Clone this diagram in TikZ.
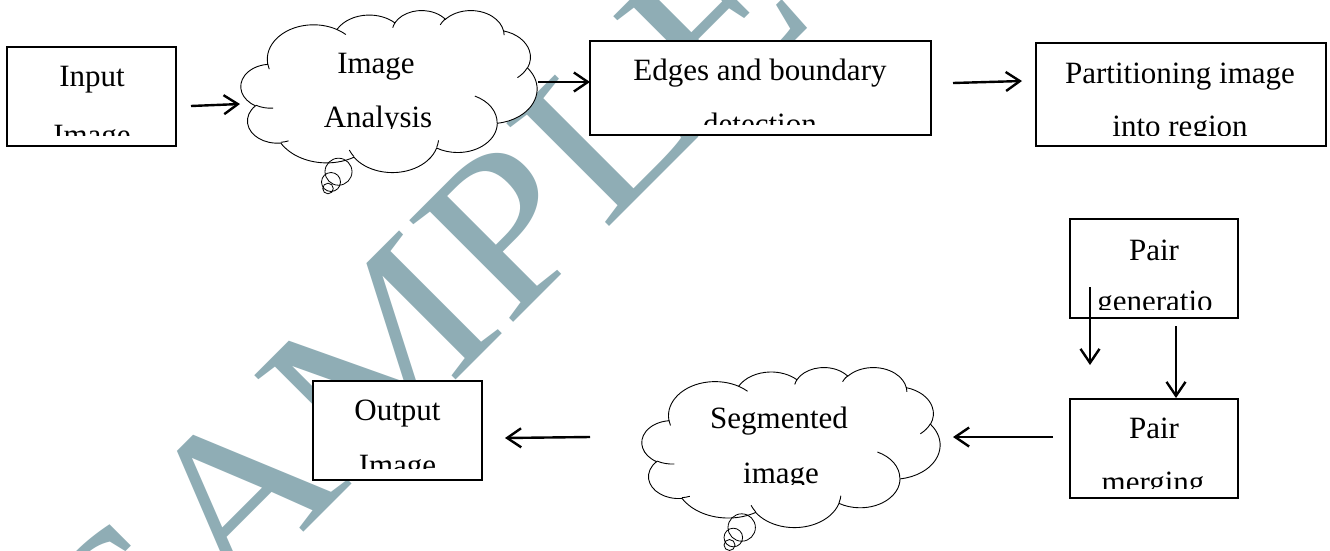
\documentclass[tikz,border=0pt]{standalone}
\usepackage{fontspec}
\setmainfont{Liberation Serif}
\usetikzlibrary{arrows.meta}

\definecolor{wmark}{RGB}{143,173,181}

% Cloud outline built from elliptical arcs (432 x 432 design grid).
% Angles are visual angles; they are turned into parametric ones here.
\makeatletter
\newcommand\defoarc[5]{%
  \pgfmathsetmacro\oa@s{atan2((#2)*sin(#4),(#3)*cos(#4))}%
  \pgfmathsetmacro\oa@e{atan2((#2)*sin((#4)+(#5)),(#3)*cos((#4)+(#5)))}%
  \pgfmathsetmacro\oa@d{mod(\oa@e-\oa@s+720,360)}%
  \expandafter\xdef\csname oarc#1\endcsname{arc[start angle=\oa@s,delta angle=\oa@d,x radius=#2,y radius=#3]}%
}
\makeatother
% outline
\defoarc{A}{67.53}{91.90}{-190.4875}{123.7805}
\defoarc{B}{53.33}{72.67}{-144.1024}{89.9452}
\defoarc{C}{43.65}{59.45}{-145.8079}{99.7230}
\defoarc{D}{48.57}{65.95}{-130.9861}{117.2417}
\defoarc{E}{53.33}{72.73}{-78.7089}{109.0269}
\defoarc{F}{67.75}{92.20}{-46.2673}{130.2690}
\defoarc{G}{57.85}{78.67}{0.6250}{114.0333}
\defoarc{H}{67.52}{92.15}{22.4516}{115.1726}
\defoarc{I}{77.20}{105.43}{66.2426}{75.7110}
\defoarc{J}{43.60}{59.18}{-274.9421}{146.7356}
\defoarc{K}{43.45}{59.45}{-246.8285}{152.5189}
% inner puff lines
\defoarc{a}{43.45}{59.45}{86.7420}{26.4295}
\defoarc{b}{43.60}{59.18}{73.6105}{11.4475}
\defoarc{c}{67.52}{92.15}{137.6242}{14.0811}
\defoarc{d}{67.52}{92.15}{6.4533}{15.9984}
\defoarc{e}{57.85}{78.67}{-70.2924}{70.9174}
\defoarc{f}{53.33}{72.73}{30.3180}{27.7515}
\defoarc{g}{48.57}{65.95}{-13.7443}{14.8589}
\defoarc{h}{48.57}{65.95}{-149.1815}{18.1954}
\defoarc{i}{43.65}{59.45}{-163.4943}{17.6864}
\defoarc{j}{67.53}{91.90}{-66.7070}{12.3194}
\defoarc{k}{67.53}{91.90}{157.6544}{11.8582}

\newcommand\cloudshape{%
  \path[cloudline, fill=white] (39.00,143.70) \oarcA \oarcB \oarcC \oarcD \oarcE
     \oarcF \oarcG \oarcH \oarcI \oarcJ \oarcK -- cycle;
  \path[cloudline] (46.93,261.77) \oarca (69.28,348.99) \oarcb
     (164.78,390.90) \oarcc (288.27,347.51) \oarcd (341.29,229.54) \oarce
     (417.98,153.54) \oarcf (383.24,54.26) \oarcg (290.78,39.52) \oarch
     (221.41,47.20) \oarci (140.00,51.92) \oarcj (41.27,157.89) \oarck;
}

\begin{document}
\begin{tikzpicture}[x=1pt,y=-1pt,
  box/.style={draw=black, line width=1.3pt, fill=white, inner sep=0pt, outer sep=0pt},
  cloudfit/.style={inner sep=0pt, outer sep=0pt},
  cloudline/.style={draw=black, line width=0.9pt},
  lbl/.style={anchor=base, inner sep=0pt, font=\fontsize{31pt}{37pt}\selectfont},
  arr/.style={line width=2.4pt, -{Straight Barb[length=14pt,width=19pt]}},
  wm/.style={text=wmark, inner sep=0pt, font=\fontsize{222pt}{222pt}\selectfont}]

\useasboundingbox (0,0) rectangle (1330,550);
\clip (0,0) rectangle (1330,550);
\fill[white] (0,0) rectangle (1330,550);

% background stamp
\node[wm, rotate=45, anchor=base west] (wmk) at (130,706) {\scalebox{1.11}[1]{SAMPLE}};

% boxes and cloud frames
\node[box, minimum width=169pt, minimum height=99pt] (in) at (91.5,96.5) {};
\node[cloudfit, minimum width=296pt, minimum height=162pt] (ana) at (389,91) {};
\node[box, minimum width=341pt, minimum height=94pt] (edge) at (760.5,88) {};
\node[box, minimum width=290pt, minimum height=103pt] (part) at (1181,94.5) {};
\node[box, minimum width=168pt, minimum height=99pt] (pg) at (1154,268.5) {};
\node[box, minimum width=168pt, minimum height=99pt] (pm) at (1154,448.5) {};
\node[cloudfit, minimum width=298pt, minimum height=160pt] (seg) at (791,447) {};
\node[box, minimum width=169pt, minimum height=99pt] (out) at (397.5,430.5) {};

% clouds
\begin{scope}[shift={(ana.north west)}, x=0.6852pt, y=-0.3750pt]
  \cloudshape
\end{scope}
\draw[cloudline, line width=0.8pt] (338.5,171.7) circle[radius=13.5]
  (331,182) circle[radius=9.5] (328,188.5) circle[radius=5.3];

\begin{scope}[shift={(seg.north west)}, x=0.6898pt, y=-0.3704pt]
  \cloudshape
\end{scope}
\draw[cloudline, line width=0.8pt] (741.7,527.5) circle[radius=13.7]
  (733.3,537.5) circle[radius=9.3] (729.5,545) circle[radius=5.5];

% labels, cut at the lower text margin
\begin{scope}
  \clip (in.north west) rectangle ([yshift=11pt]in.south east);
  \node[lbl] (inA) at (92,86) {Input};
  \node[lbl] (inB) at (92,145) {Image};
\end{scope}
\begin{scope}
  \clip (ana.north west) rectangle ([yshift=44pt]ana.south east);
  \node[lbl] (anaA) at (376,73) {Image};
  \node[lbl] (anaB) at (378,127) {Analysis};
\end{scope}
\begin{scope}
  \clip (edge.north west) rectangle ([yshift=11pt]edge.south east);
  \node[lbl] (edgeA) at (760,80) {Edges and boundary};
  \node[lbl] (edgeB) at (760,134) {detection};
\end{scope}
\begin{scope}
  \clip (part.north west) rectangle ([yshift=11pt]part.south east);
  \node[lbl] (partA) at (1180,83) {Partitioning image};
  \node[lbl] (partB) at (1180,136) {into region};
\end{scope}
\begin{scope}
  \clip (pg.north west) rectangle ([yshift=9pt]pg.south east);
  \node[lbl] (pgA) at (1154,260) {Pair};
  \node[lbl] (pgB) at (1155,311) {generatio};
\end{scope}
\begin{scope}
  \clip (pm.north west) rectangle ([yshift=10pt]pm.south east);
  \node[lbl] (pmA) at (1154,438) {Pair};
  \node[lbl] (pmB) at (1153,492) {merging};
\end{scope}
\begin{scope}
  \clip (seg.north west) rectangle ([yshift=43pt]seg.south east);
  \node[lbl] (segA) at (779,428) {Segmented};
  \node[lbl] (segB) at (781,483) {image};
\end{scope}
\begin{scope}
  \clip (out.north west) rectangle ([yshift=12pt]out.south east);
  \node[lbl] (outA) at (397.5,420) {Output};
  \node[lbl] (outB) at (397.5,475) {Image};
\end{scope}

% connectors
\draw[arr] ([xshift=15pt,yshift=-9.5pt]in.east) -- ([xshift=-1pt,yshift=-13pt]ana.west);
\draw[arr] ([xshift=1pt,yshift=9pt]ana.east) -- ([yshift=6pt]edge.west);
\draw[arr] ([xshift=22pt,yshift=5pt]edge.east) -- ([xshift=-14pt,yshift=13.5pt]part.west);
\draw[arr] ([xshift=20pt,yshift=31pt]pg.south west) -- ([xshift=20pt,yshift=-47pt]pg.south west);
\draw[arr] ([xshift=22pt,yshift=-8pt]pg.south) -- ([xshift=22pt,yshift=1pt]pm.north);
\draw[arr] ([xshift=-17pt,yshift=11.5pt]pm.west) -- ([xshift=13pt,yshift=10pt]seg.east);
\draw[arr] ([xshift=-52pt,yshift=10pt]seg.west) -- ([xshift=23pt,yshift=-7.5pt]out.east);
\end{tikzpicture}
\end{document}
